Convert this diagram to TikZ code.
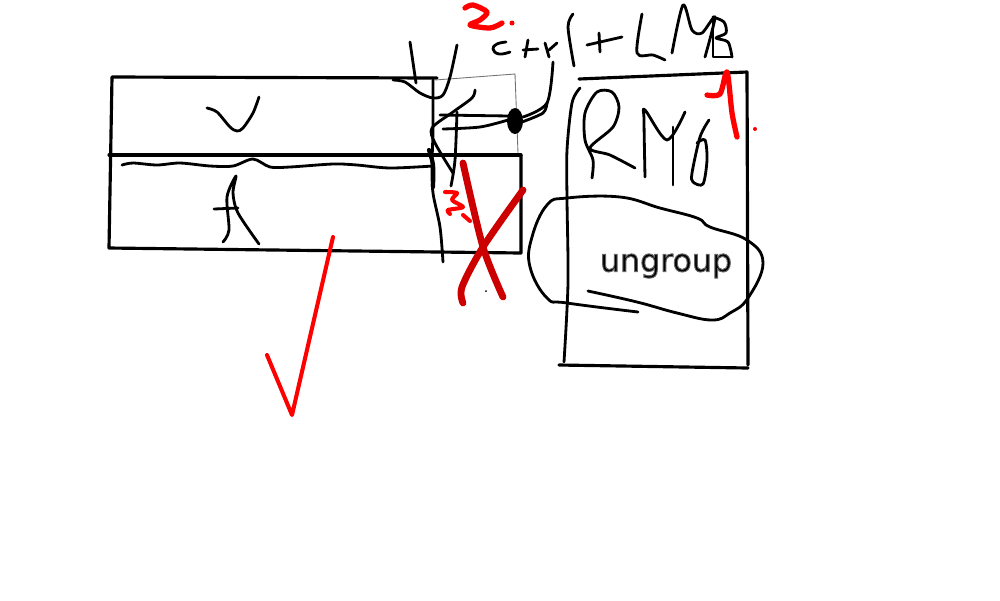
\documentclass[tikz,border=0pt]{standalone}
\usepackage{fontspec}
\setmainfont{DejaVu Sans}

\begin{document}
\begin{tikzpicture}[
x=0.02cm, y=-0.02cm,
pen/.style={draw=black, line width=1.6pt, line cap=round, line join=round},
boxline/.style={draw=black, line width=1.8pt, line cap=round, line join=round},
thinline/.style={draw=black!55, line width=0.5pt},
redpen/.style={draw=red, line width=2.3pt, line cap=round, line join=round},
redfat/.style={draw=red, line width=3pt, line cap=round, line join=round},
crosspen/.style={draw=red!80!black, line width=3.9pt, line cap=round, line join=round},
sketch/.style={smooth, tension=0.5},
labeltext/.style={font=\fontsize{18}{20}\selectfont, inner sep=0pt}
]
\useasboundingbox (0,0) rectangle (1000,600);
% left boxes
\draw[boxline] (437,78) -- (112,77) -- (109,248) -- (521,253) -- (521,155);
\draw[boxline] (109,155) -- (521,155);
\draw[thinline] (435,80) -- (515,74) -- (518,153);
% arrows in the boxes
\draw[pen] plot[sketch] coordinates {(207,108) (217,112) (230,127) (237,131) (243,128) (253,113) (259,97)};
\draw[pen] plot[sketch] coordinates {(122,165) (133,163) (157,165) (180,163) (210,166) (233,166) (253,159) (270,167) (290,167) (333,164) (357,165) (390,168) (433,166)};
\draw[pen] plot[sketch] coordinates {(223,242) (229,230) (227,197) (236,176) (233,193) (238,213) (259,244)};
\draw[pen] (214,209) -- (238,208);
% divider scribble
\draw[pen] (410,42) -- (416,83);
\draw[pen] plot[sketch] coordinates {(393,80) (405,82) (420,93) (433,98) (443,95) (450,77) (457,45)};
\draw[pen] plot[sketch] coordinates {(433,80) (433,130) (432,165) (433,193) (440,227) (443,262)};
\draw[pen, line width=2.4pt] plot[sketch] coordinates {(429,150) (433,165) (433,187)};
\draw[pen] plot[sketch] coordinates {(475,90) (472,98) (453,112) (432,128) (435,143) (453,173)};
\draw[pen] plot[sketch] coordinates {(457,112) (455,160) (451,186)};
\draw[pen] (440,115) -- (510,116);
\draw[pen] plot[sketch] coordinates {(443,129) (480,127) (508,120)};
\fill[black] (515,121) ellipse [x radius=8, y radius=13];
\draw[pen] plot[sketch] coordinates {(553,62) (547,103) (523,117)};
\draw[pen] plot[sketch] coordinates {(522,122) (543,113) (547,103)};
% ctrl + LMB
\draw[pen] plot[smooth, tension=0.8] coordinates {(506,42) (497,44) (493,49) (499,54) (510,52)};
\draw[pen] (528,40) -- (525,57);
\draw[pen] (523,50) -- (538,49);
\draw[pen] plot[sketch] coordinates {(545,43) (549,57)};
\draw[pen] (549,50) -- (557,43);
\draw[pen] plot[sketch] coordinates {(573,14) (568,27) (574,66)};
\draw[pen] (587,45) -- (622,37);
\draw[pen] (599,33) -- (600,52);
\draw[pen] plot[sketch] coordinates {(642,14) (637,53) (653,55) (665,60)};
\draw[pen] plot[sketch] coordinates {(672,53) (683,5) (692,30) (702,33) (715,17) (705,57)};
\draw[pen] (713,17) -- (713,57) -- (732,57);
\draw[pen] plot[sketch] coordinates {(713,17) (724,22) (726,33) (716,38) (728,42) (732,57)};
% right box
\draw[boxline] (579,79) -- (747,72) -- (748,365);
\draw[boxline] (559,365) -- (748,368);
\draw[pen] plot[sketch] coordinates {(580,88) (572,103) (567,150) (567,200) (568,283) (564,362)};
% RMB
\draw[pen] plot[sketch] coordinates {(592,178) (593,160) (585,140) (585,113) (597,92) (612,92) (619,107) (613,127) (590,148) (610,155) (635,168)};
\draw[pen] plot[sketch] coordinates {(645,177) (644,120) (645,110) (667,140) (685,112)};
\draw[pen] (673,127) -- (673,185);
\draw[pen] plot[sketch] coordinates {(709,120) (700,137) (692,173) (693,182) (703,184) (707,160) (705,140) (697,143)};
% lasso round the label
\node[labeltext] (ungroup) at (666,266) {\special{pdf:code q 2 Tr 0.4 0.4 0.4 RG 0.55 w}ungroup\special{pdf:code Q}};
\draw[pen] plot[smooth, tension=0.7] coordinates {(638,312) (567,303) (547,298) (530,267) (532,237) (547,205) (567,198) (620,197) (660,208) (697,218) (710,227) (747,240) (763,263) (748,298) (730,313) (712,320) (677,313) (637,302) (588,291)};
% red marks
\draw[redpen] (333,237) -- (292,415) -- (267,355);
\draw[crosspen] plot[sketch] coordinates {(463,163) (483,247) (503,297)};
\draw[crosspen] plot[sketch] coordinates {(523,190) (483,247) (462,287) (463,303)};
\fill[black] (486,291) circle (1);
\draw[redpen] plot[sketch] coordinates {(445,192) (457,193) (452,200) (463,207) (448,210) (450,214)};
\draw[redpen] (463,215) -- (470,221);
\draw[redfat] plot[sketch] coordinates {(465,8) (473,5) (487,12) (480,20) (470,25) (490,28) (502,23)};
\fill[red] (512,23) circle (2.5);
\draw[redfat] plot[sketch] coordinates {(707,95) (720,94) (727,72) (732,113) (737,137)};
\fill[red] (755,129) circle (2);
\end{tikzpicture}
\end{document}
